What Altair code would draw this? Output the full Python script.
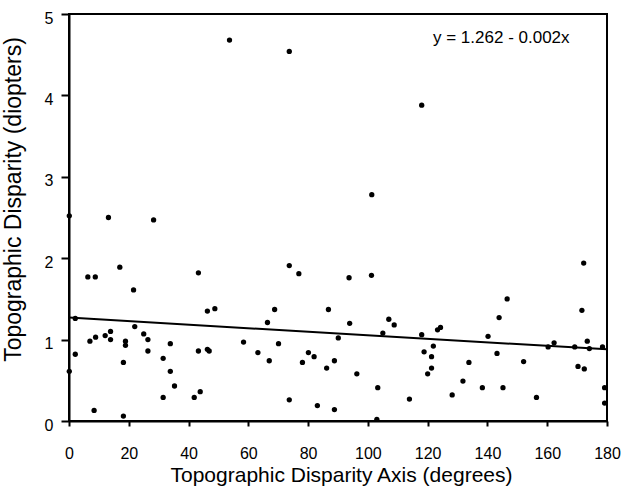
import altair as alt
import pandas as pd

# Scatter data (axis in degrees, disparity in diopters)
axis_deg = [0.1, 13.2, 28.3, 6.3, 8.8, 17.0, 43.3, 21.6, 46.3, 48.8,
            2.1, 22.0, 7.0, 8.9, 12.1, 13.9, 13.9, 18.9, 18.9, 25.0,
            26.4, 26.4, 33.9, 31.5, 33.9, 35.3, 43.3, 46.3, 46.9, 58.4,
            2.1, 0.1, 18.2, 31.5, 41.9, 43.9, 8.4, 18.2, 53.7, 73.7,
            118.0, 101.3, 73.7, 76.9, 93.7, 101.2, 68.8, 86.8, 66.4, 93.9,
            107.0, 108.8, 105.0, 118.0, 123.3, 124.3, 90.1, 70.1, 63.2, 67.0,
            80.1, 82.0, 78.1, 88.8, 86.2, 96.3, 103.3, 113.9, 73.7, 83.1,
            88.8, 103.0, 118.8, 121.9, 121.3, 121.3, 120.0, 146.6, 143.9, 172.2,
            171.6, 140.2, 160.3, 162.3, 169.2, 173.4, 174.1, 178.5, 143.2, 133.8,
            152.1, 170.3, 172.4, 131.8, 128.2, 138.3, 145.2, 156.4, 179.2, 179.2]
disparity = [2.52, 2.50, 2.47, 1.77, 1.77, 1.89, 1.82, 1.61, 1.35, 1.38,
             1.26, 1.16, 0.98, 1.03, 1.05, 1.10, 1.00, 0.98, 0.93, 1.07,
             1.00, 0.86, 0.95, 0.77, 0.61, 0.43, 0.86, 0.88, 0.86, 0.97,
             0.82, 0.61, 0.72, 0.29, 0.29, 0.36, 0.13, 0.06, 4.68, 4.54,
             3.88, 2.78, 1.91, 1.81, 1.76, 1.79, 1.37, 1.37, 1.21, 1.20,
             1.25, 1.18, 1.08, 1.06, 1.12, 1.15, 1.02, 0.95, 0.84, 0.74,
             0.84, 0.79, 0.72, 0.74, 0.65, 0.58, 0.41, 0.27, 0.26, 0.19,
             0.14, 0.02, 0.85, 0.92, 0.79, 0.65, 0.58, 1.50, 1.27, 1.94,
             1.36, 1.04, 0.91, 0.96, 0.91, 0.98, 0.89, 0.91, 0.83, 0.72,
             0.73, 0.67, 0.64, 0.49, 0.32, 0.41, 0.41, 0.29, 0.41, 0.22]

# Regression line endpoints
fit_x = [0, 180]
fit_y = [1.27, 0.88]
equation = ["y = 1.262 - 0.002x"]

x_ticks = list(range(0, 181, 10))
y_ticks = [0, 1, 2, 3, 4, 5]

FONT = "Liberation Sans"

pts = pd.DataFrame({"x": axis_deg, "y": disparity})
fit = pd.DataFrame({"x": fit_x, "y": fit_y})
eq = pd.DataFrame({"t": equation})

xscale = alt.Scale(domain=[0, 180], nice=False, zero=False)
yscale = alt.Scale(domain=[0, 5], nice=False)

xaxis = alt.Axis(
    title="Topographic Disparity Axis (degrees)",
    values=x_ticks,
    format="d",
    labelExpr="datum.value % 20 == 0 ? datum.label : ''",
    labelFlush=False, labelOverlap=False,
    tickSize=5, tickWidth=2, tickColor="black",
    domainColor="black", domainWidth=2,
    labelPadding=19, labelFontSize=16, labelColor="black", labelFont=FONT,
    titleFontSize=21, titleFont=FONT, titleColor="black", titleFontWeight="normal",
    titleX=272, titleY=60, titleBaseline="alphabetic",
    grid=False,
)
yaxis = alt.Axis(
    title="Topographic Disparity (diopters)",
    values=y_ticks,
    format="d",
    labelFlush=False, labelOverlap=False,
    tickSize=8, tickWidth=2, tickColor="black",
    domainColor="black", domainWidth=2,
    labelPadding=8, labelFontSize=16, labelColor="black", labelFont=FONT,
    labelOffset=4,
    titleFontSize=23, titleFont=FONT, titleColor="black", titleFontWeight="normal",
    titleX=-49, titleY=185, titleAngle=-90, titleBaseline="alphabetic",
    grid=False,
)

points = alt.Chart(pts).mark_circle(size=28, color="black", opacity=1).encode(
    x=alt.X("x:Q", scale=xscale, axis=xaxis),
    y=alt.Y("y:Q", scale=yscale, axis=yaxis),
)

line = alt.Chart(fit).mark_line(color="black", strokeWidth=2).encode(
    x=alt.X("x:Q", scale=xscale),
    y=alt.Y("y:Q", scale=yscale),
)

label = alt.Chart(eq).mark_text(
    align="left", baseline="middle", fontSize=17, font=FONT, color="black"
).encode(
    text="t:N",
    x=alt.value(364),
    y=alt.value(24),
)

chart = (
    alt.layer(points, line, label)
    .properties(
        width=538,
        height=407,
        autosize=alt.AutoSizeParams(type="none"),
        padding={"left": 69, "top": 14, "right": 16, "bottom": 67},
        background="white",
    )
    .configure_view(stroke="black", strokeWidth=2)
)

chart.save("out.html", embed_options={"renderer": "svg", "actions": False})
